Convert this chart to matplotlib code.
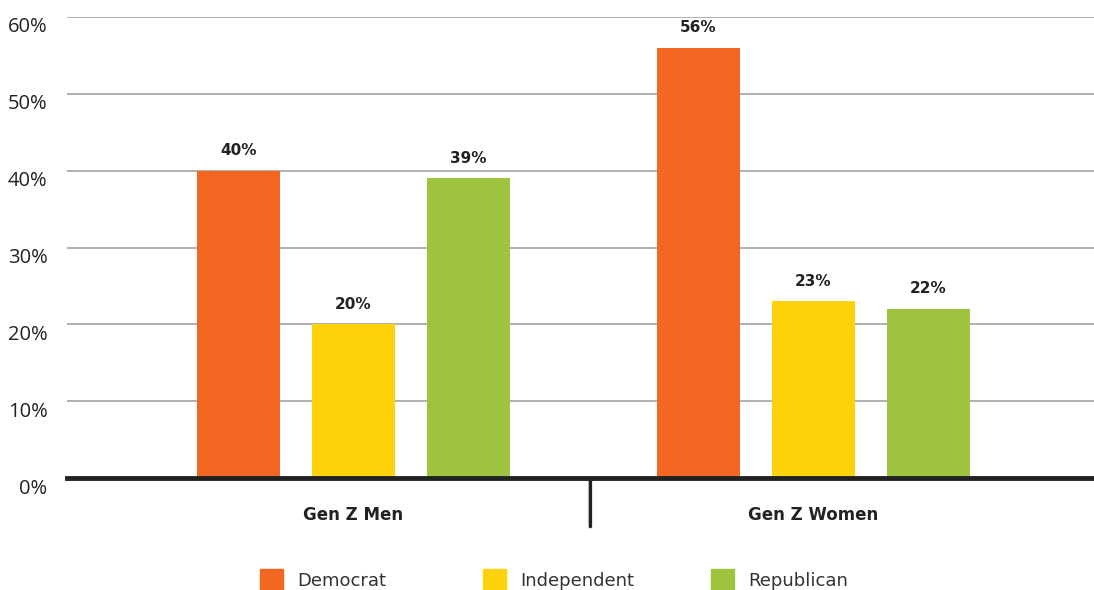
import matplotlib
matplotlib.use("Agg")
import matplotlib.pyplot as plt
import matplotlib.transforms as mtransforms
from matplotlib.patches import Rectangle
import numpy as np

groups = ["Gen Z Men", "Gen Z Women"]
series = ["Democrat", "Independent", "Republican"]
democrat = [40, 56]
independent = [20, 23]
republican = [39, 22]
values = [democrat, independent, republican]
colors = ["#F26722", "#FDD20A", "#9DC33F"]
yticks = [0, 10, 20, 30, 40, 50, 60]
ytick_labels = ["0%", "10%", "20%", "30%", "40%", "50%", "60%"]

W, H = 1094, 590
fig = plt.figure(figsize=(W / 100, H / 100), dpi=100)
ax = fig.add_axes([67 / W, (H - 478) / H, (W - 67) / W, 461 / H])

x = np.arange(len(groups))
bw = 0.18
offsets = [-0.25, 0.0, 0.25]
for vals, off, col in zip(values, offsets, colors):
    bars = ax.bar(x + off, vals, width=bw, color=col, zorder=3)
    for b, v in zip(bars, vals):
        ax.annotate(f"{v}%", (b.get_x() + b.get_width() / 2, v),
                    xytext=(0, 9), textcoords="offset points",
                    ha="center", va="bottom", fontsize=11,
                    fontweight="bold", color="#222222", family="DejaVu Sans")

ax.set_xlim(-0.6228, 1.6098)
ax.set_ylim(0, 60)
ax.set_yticks(yticks)
ax.set_yticklabels(ytick_labels, family="Open Sans", fontsize=14.5, color="#222222")
ax.tick_params(axis="y", length=0, pad=14)
offset = mtransforms.ScaledTranslation(0, -8 / 100, fig.dpi_scale_trans)
for lbl in ax.get_yticklabels():
    lbl.set_transform(lbl.get_transform() + offset)
ax.set_xticks([])
ax.grid(axis="y", color="#aaaaaa", linewidth=1.3, zorder=0)
for s in ["top", "right", "left", "bottom"]:
    ax.spines[s].set_visible(False)
ax.axhline(0, color="#222222", linewidth=3.5, zorder=4, clip_on=False)

# group labels and divider
for xi, g in zip(x, groups):
    ax.annotate(g, (xi, 0), xytext=(0, -27), textcoords="offset points",
                ha="center", va="center", fontsize=12, fontweight="bold",
                color="#222222", family="DejaVu Sans", annotation_clip=False)
ax.annotate("", xy=(0.515, 0), xytext=(0, -35), textcoords="offset points",
            arrowprops=dict(arrowstyle="-", color="#222222", lw=2.5,
                            shrinkA=0, shrinkB=0), annotation_clip=False)

# legend
leg_x = [260, 483, 711]
for name, col, lx in zip(series, colors, leg_x):
    fig.add_artist(Rectangle((lx / W, 0 / H), 23 / W, 21 / H,
                             transform=fig.transFigure, color=col))
    fig.text((lx + 37) / W, 9 / H, name, fontsize=13, color="#333333",
             va="center", ha="left", family="DejaVu Sans")

fig.savefig("out.png", dpi=100)
